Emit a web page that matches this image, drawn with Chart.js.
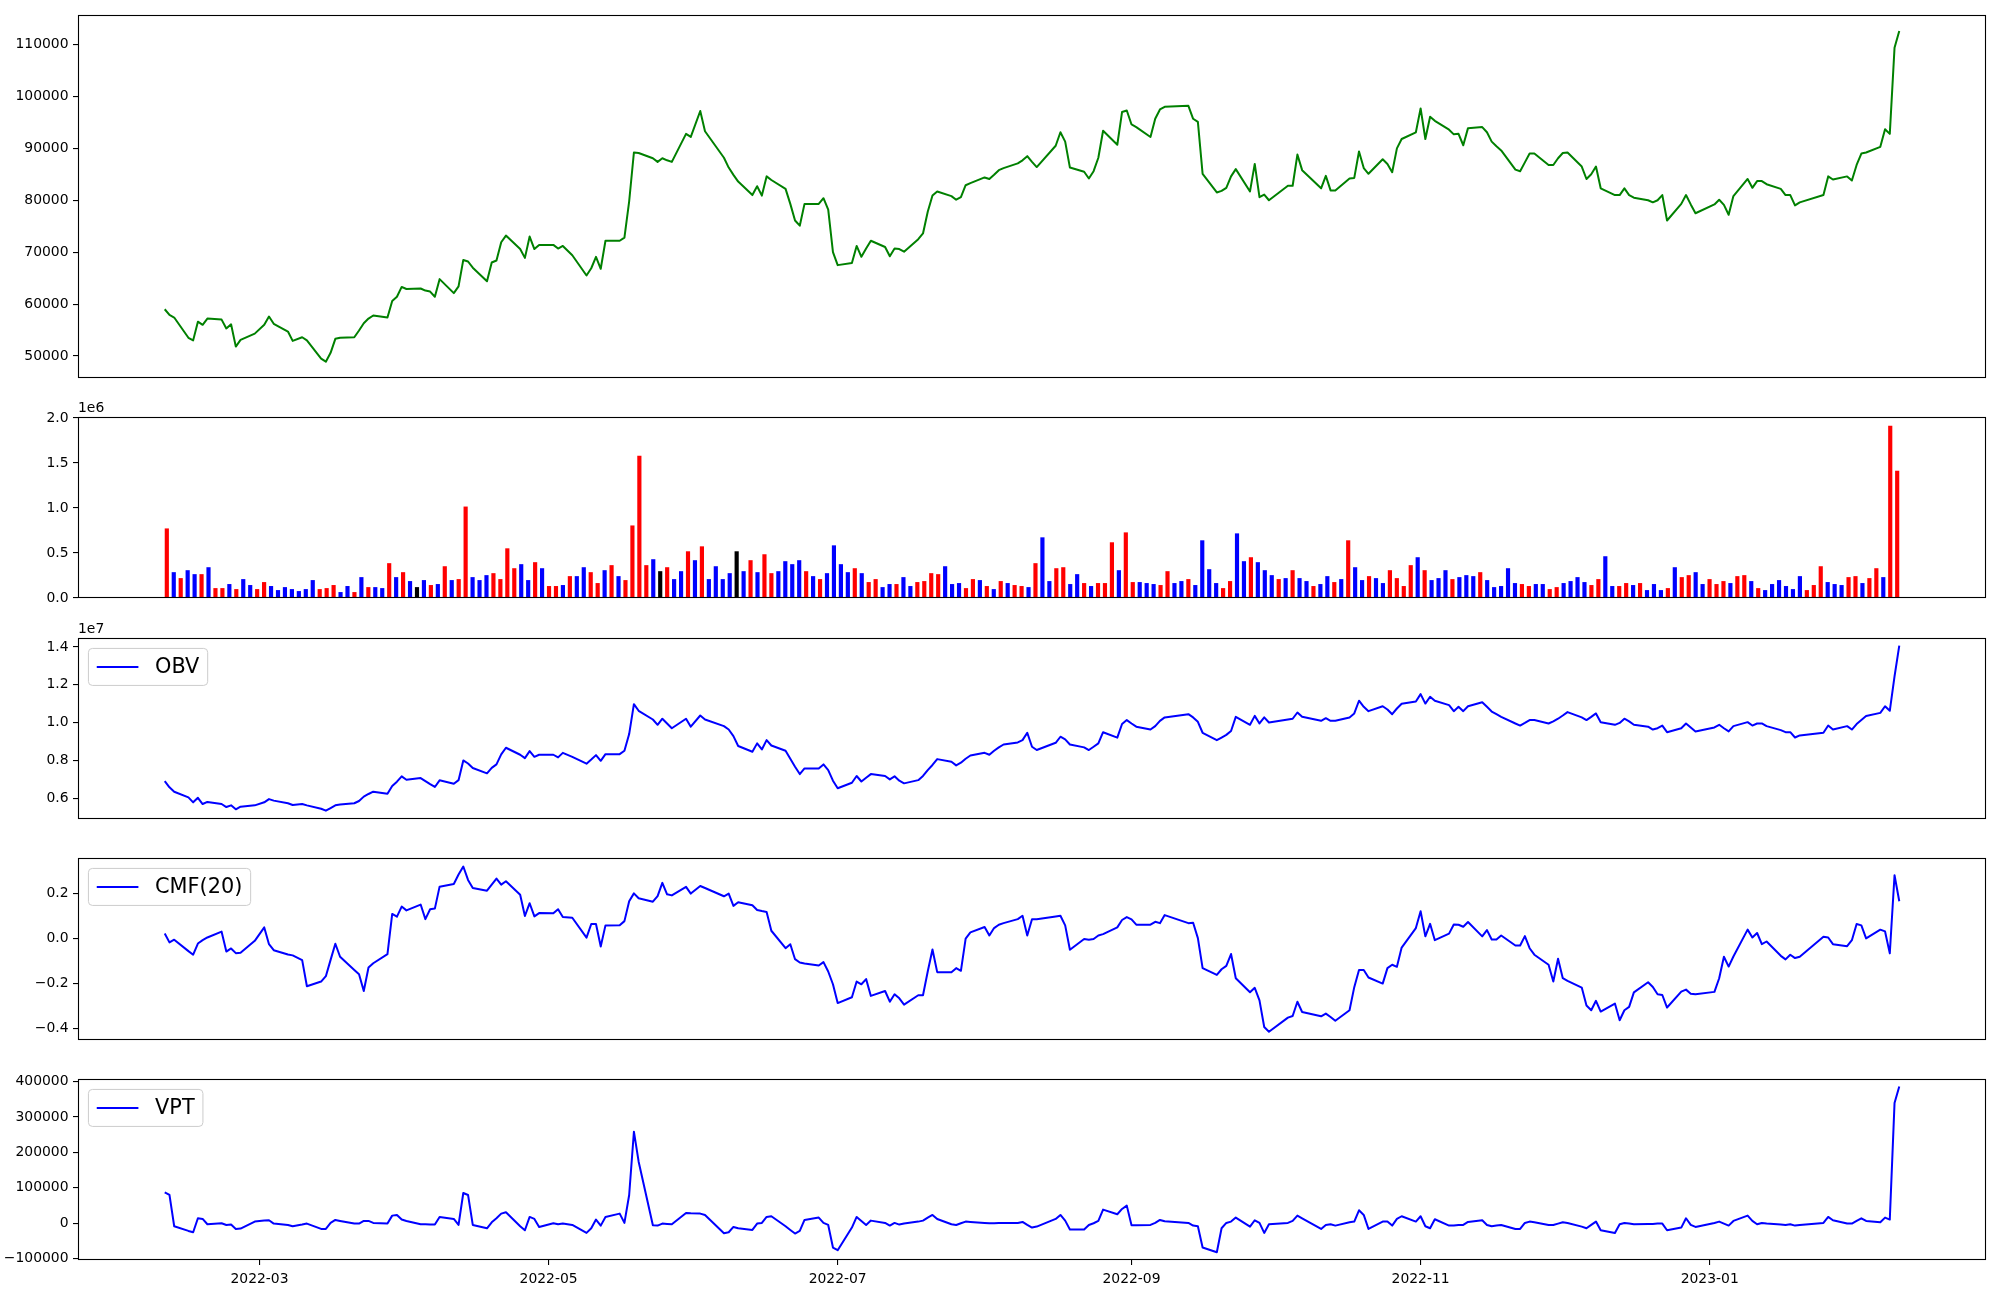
<!DOCTYPE html>
<html><head><meta charset="utf-8">
<script src="https://cdn.jsdelivr.net/npm/chart.js@4.4.1/dist/chart.umd.min.js"></script>
<style>
html,body{margin:0;padding:0;background:#fff;}
#wrap{position:relative;width:2000px;height:1300px;overflow:hidden;background:#fff;}
#wrap canvas{position:absolute;left:0;}
</style></head>
<body><div id="wrap"></div>
<script>
// ---------------- DATA ----------------
const dates = [
'2022-02-09','2022-02-10','2022-02-11','2022-02-14','2022-02-15','2022-02-16','2022-02-17','2022-02-18','2022-02-21','2022-02-22','2022-02-23','2022-02-24','2022-02-25','2022-02-28',
'2022-03-02','2022-03-03','2022-03-04','2022-03-07','2022-03-08','2022-03-10','2022-03-11','2022-03-14','2022-03-15','2022-03-16','2022-03-17','2022-03-18','2022-03-21','2022-03-22','2022-03-23','2022-03-24','2022-03-25','2022-03-28','2022-03-29','2022-03-30','2022-03-31',
'2022-04-01','2022-04-04','2022-04-05','2022-04-06','2022-04-07','2022-04-08','2022-04-11','2022-04-12','2022-04-13','2022-04-14','2022-04-15','2022-04-18','2022-04-19','2022-04-20','2022-04-21','2022-04-22','2022-04-25','2022-04-26','2022-04-27','2022-04-28','2022-04-29',
'2022-05-02','2022-05-03','2022-05-04','2022-05-06','2022-05-09','2022-05-10','2022-05-11','2022-05-12','2022-05-13','2022-05-16','2022-05-17','2022-05-18','2022-05-19','2022-05-20','2022-05-23','2022-05-24','2022-05-25','2022-05-26','2022-05-27','2022-05-30','2022-05-31',
'2022-06-02','2022-06-03','2022-06-07','2022-06-08','2022-06-09','2022-06-10','2022-06-13','2022-06-14','2022-06-15','2022-06-16','2022-06-17','2022-06-20','2022-06-21','2022-06-22','2022-06-23','2022-06-24','2022-06-27','2022-06-28','2022-06-29','2022-06-30',
'2022-07-01','2022-07-04','2022-07-05','2022-07-06','2022-07-07','2022-07-08','2022-07-11','2022-07-12','2022-07-13','2022-07-14','2022-07-15','2022-07-18','2022-07-19','2022-07-20','2022-07-21','2022-07-22','2022-07-25','2022-07-26','2022-07-27','2022-07-28','2022-07-29',
'2022-08-01','2022-08-02','2022-08-03','2022-08-04','2022-08-05','2022-08-08','2022-08-09','2022-08-10','2022-08-11','2022-08-12','2022-08-16','2022-08-17','2022-08-18','2022-08-19','2022-08-22','2022-08-23','2022-08-24','2022-08-25','2022-08-26','2022-08-29','2022-08-30','2022-08-31',
'2022-09-01','2022-09-02','2022-09-05','2022-09-06','2022-09-07','2022-09-08','2022-09-13','2022-09-14','2022-09-15','2022-09-16','2022-09-19','2022-09-20','2022-09-21','2022-09-22','2022-09-23','2022-09-26','2022-09-27','2022-09-28','2022-09-29','2022-09-30',
'2022-10-04','2022-10-05','2022-10-06','2022-10-07','2022-10-11','2022-10-12','2022-10-13','2022-10-14','2022-10-17','2022-10-18','2022-10-19','2022-10-20','2022-10-21','2022-10-24','2022-10-25','2022-10-26','2022-10-27','2022-10-28','2022-10-31',
'2022-11-01','2022-11-02','2022-11-03','2022-11-04','2022-11-07','2022-11-08','2022-11-09','2022-11-10','2022-11-11','2022-11-14','2022-11-15','2022-11-16','2022-11-17','2022-11-18','2022-11-21','2022-11-22','2022-11-23','2022-11-24','2022-11-25','2022-11-28','2022-11-29','2022-11-30',
'2022-12-01','2022-12-02','2022-12-05','2022-12-06','2022-12-07','2022-12-08','2022-12-09','2022-12-12','2022-12-13','2022-12-14','2022-12-15','2022-12-16','2022-12-19','2022-12-20','2022-12-21','2022-12-22','2022-12-23','2022-12-26','2022-12-27','2022-12-28','2022-12-29',
'2023-01-02','2023-01-03','2023-01-04','2023-01-05','2023-01-06','2023-01-09','2023-01-10','2023-01-11','2023-01-12','2023-01-13','2023-01-16','2023-01-17','2023-01-18','2023-01-19','2023-01-20','2023-01-25','2023-01-26','2023-01-27','2023-01-30','2023-01-31',
'2023-02-01','2023-02-02','2023-02-03','2023-02-06','2023-02-07','2023-02-08','2023-02-09','2023-02-10'
];

const closePrice = [
59000,57900,57400,53500,53000,56600,56000,57200,57000,55300,56100,51800,53100,54300,
56000,57600,56200,54700,52900,53600,53000,49500,48900,50600,53300,53500,53600,54900,56300,57200,57800,57400,60600,61400,63300,
62900,63000,62600,62400,61400,64800,62100,63400,68500,68200,67000,64400,68000,68400,71900,73200,70600,68900,73000,70600,71400,
71400,70700,71200,69400,65500,66900,69100,66800,72200,72200,72800,79800,89200,89100,88100,87400,88100,87700,87400,92800,92200,
97200,93300,88200,86300,84900,83600,81000,82700,80900,84600,83900,82200,79300,76100,75100,79300,79300,80400,78200,70000,
67500,67900,71200,69100,70700,72200,71000,69200,70700,70600,70100,72500,73600,77800,80900,81700,80800,80100,80600,82900,83300,
84400,84100,84900,85800,86200,87100,87700,88500,87400,86400,90500,93100,91300,86300,85500,84200,85600,88200,93400,90700,97000,97300,
94600,94100,92200,95700,97500,98000,98200,95700,95100,85100,81500,81800,82400,84600,86000,81700,87000,80600,81100,80000,
82800,82800,88800,85800,82300,84700,81900,81900,84200,84300,89400,86200,85100,87900,87000,85400,90000,91800,93100,
97700,91800,96100,95300,93600,92700,92800,90600,93900,94100,93100,91300,90400,89600,85900,85600,87300,89000,89000,86800,86800,88100,
89100,89200,86500,84100,85000,86500,82300,81000,81000,82300,81000,80500,80000,79600,80000,81000,76100,79300,81000,79200,77500,
79200,80100,79100,77200,80800,84100,82400,83700,83700,83100,82200,81000,81000,79000,79600,81000,84600,84000,84600,83800,
86800,89000,89200,90300,93700,92800,109400,112600
];

const volume = [
773e3,287e3,221e3,309e3,265e3,265e3,342e3,110e3,110e3,155e3,
99e3,210e3,144e3,99e3,177e3,133e3,88e3,121e3,99e3,77e3,
99e3,199e3,99e3,110e3,144e3,66e3,133e3,66e3,232e3,121e3,
121e3,110e3,387e3,232e3,287e3,188e3,121e3,199e3,144e3,155e3,
353e3,199e3,210e3,1016e3,232e3,199e3,254e3,276e3,210e3,552e3,
331e3,376e3,199e3,398e3,331e3,133e3,133e3,144e3,243e3,243e3,
342e3,287e3,166e3,309e3,365e3,243e3,199e3,806e3,1580e3,365e3,
431e3,298e3,342e3,210e3,298e3,519e3,420e3,574e3,210e3,353e3,
210e3,276e3,519e3,298e3,420e3,287e3,486e3,276e3,298e3,409e3,
376e3,420e3,298e3,243e3,210e3,276e3,585e3,376e3,287e3,331e3,
276e3,177e3,210e3,121e3,155e3,155e3,232e3,133e3,177e3,188e3,
276e3,265e3,353e3,155e3,166e3,110e3,210e3,199e3,133e3,99e3,
188e3,166e3,144e3,133e3,121e3,387e3,674e3,188e3,331e3,342e3,
155e3,265e3,166e3,133e3,166e3,166e3,619e3,309e3,729e3,177e3,
177e3,166e3,155e3,144e3,298e3,166e3,188e3,210e3,144e3,641e3,
320e3,166e3,110e3,188e3,718e3,409e3,453e3,398e3,309e3,254e3,
210e3,221e3,309e3,221e3,188e3,133e3,155e3,243e3,177e3,210e3,
641e3,342e3,199e3,243e3,221e3,166e3,309e3,221e3,133e3,365e3,
453e3,309e3,199e3,221e3,309e3,210e3,232e3,254e3,243e3,287e3,
199e3,121e3,133e3,331e3,166e3,155e3,133e3,155e3,155e3,99e3,
121e3,166e3,188e3,232e3,177e3,144e3,210e3,464e3,133e3,133e3,
166e3,144e3,166e3,88e3,155e3,88e3,110e3,342e3,232e3,254e3,
287e3,155e3,210e3,155e3,188e3,166e3,243e3,254e3,188e3,110e3,
88e3,155e3,199e3,133e3,99e3,243e3,88e3,144e3,353e3,177e3,
155e3,144e3,232e3,243e3,166e3,221e3,331e3,232e3,1915e3,1414e3
];

// r = up candle, b = down candle, k = unchanged
const volumeColorCode = (
'rbrbbrbrrb'+'rbbrrbbbbb'+'bbrrrbbrbr'+'bbrbrbkbrb'+'rbrrbbbrrr'+
'rbbrbrrbrb'+'brrbrbrrrr'+'bkrbbrbrbb'+'bbkbrbrrbb'+'bbrbrbbbbr'+
'brrbbrbbrr'+'rrbbbrrbrb'+'rbrrbrbbrr'+'bbrbrrrbrr'+'bbbrrbbrbb'+
'bbrrbbrbbb'+'rbrbbrbbrb'+'rbbrbbrrrr'+'brbbbrbbbr'+'bbbbbrrbbr'+
'rbbbbrrbbr'+'rbrbbbrbrr'+'bbrrrbrrbr'+'bbbbbbrrrb'+'bbrrbrrbrr'
).split('');

const obv = [
6.92e6,6.59e6,6.36e6,6.06e6,5.80e6,6.04e6,5.71e6,5.82e6,5.71e6,5.55e6,5.64e6,5.43e6,5.57e6,5.64e6,
5.80e6,5.97e6,5.89e6,5.75e6,5.66e6,5.71e6,5.64e6,5.46e6,5.36e6,5.50e6,5.64e6,5.68e6,5.75e6,5.87e6,6.10e6,6.24e6,6.36e6,6.25e6,6.66e6,6.89e6,7.17e6,
6.99e6,7.08e6,6.92e6,6.76e6,6.61e6,6.96e6,6.78e6,6.97e6,8.01e6,7.85e6,7.61e6,7.33e6,7.62e6,7.80e6,8.33e6,8.68e6,8.31e6,8.13e6,8.50e6,8.20e6,8.31e6,
8.31e6,8.17e6,8.41e6,8.20e6,7.84e6,8.06e6,8.29e6,7.99e6,8.34e6,8.34e6,8.52e6,9.40e6,10.98e6,10.63e6,10.17e6,9.89e6,10.21e6,9.96e6,9.71e6,10.21e6,9.79e6,
10.38e6,10.17e6,9.82e6,9.64e6,9.29e6,8.77e6,8.47e6,8.91e6,8.59e6,9.08e6,8.80e6,8.52e6,8.10e6,7.68e6,7.29e6,7.59e6,7.59e6,7.80e6,7.50e6,6.94e6,
6.54e6,6.83e6,7.19e6,6.90e6,7.10e6,7.29e6,7.19e6,7.01e6,7.17e6,6.94e6,6.80e6,6.97e6,7.19e6,7.50e6,7.77e6,8.08e6,7.94e6,7.75e6,7.89e6,8.10e6,8.27e6,
8.41e6,8.31e6,8.52e6,8.70e6,8.85e6,8.96e6,9.08e6,9.47e6,8.73e6,8.56e6,8.94e6,9.26e6,9.12e6,8.85e6,8.70e6,8.56e6,8.73e6,8.91e6,9.50e6,9.21e6,9.93e6,10.14e6,
9.96e6,9.79e6,9.64e6,9.82e6,10.10e6,10.28e6,10.45e6,10.28e6,10.05e6,9.47e6,9.08e6,9.22e6,9.36e6,9.56e6,10.31e6,9.89e6,10.36e6,9.96e6,10.28e6,10.01e6,
10.17e6,10.21e6,10.54e6,10.31e6,10.10e6,10.24e6,10.10e6,10.10e6,10.28e6,10.49e6,11.16e6,10.84e6,10.61e6,10.87e6,10.70e6,10.45e6,10.75e6,11.00e6,11.12e6,
11.51e6,11.01e6,11.37e6,11.16e6,10.93e6,10.61e6,10.84e6,10.61e6,10.87e6,11.08e6,10.84e6,10.59e6,10.45e6,10.31e6,9.96e6,9.85e6,9.99e6,10.14e6,10.14e6,9.96e6,10.07e6,10.21e6,
10.38e6,10.56e6,10.28e6,10.14e6,10.31e6,10.49e6,10.03e6,9.89e6,9.99e6,10.21e6,10.07e6,9.89e6,9.79e6,9.64e6,9.71e6,9.85e6,9.50e6,9.71e6,9.96e6,9.75e6,9.54e6,
9.75e6,9.89e6,9.71e6,9.54e6,9.82e6,10.03e6,9.85e6,9.96e6,9.96e6,9.82e6,9.61e6,9.50e6,9.50e6,9.22e6,9.33e6,9.47e6,9.85e6,9.64e6,9.82e6,9.64e6,
9.93e6,10.14e6,10.35e6,10.52e6,10.87e6,10.63e6,12.45e6,14.07e6
];

const cmf20 = [
0.023,-0.017,-0.005,-0.056,-0.072,-0.022,-0.007,0.005,0.031,-0.058,-0.044,-0.065,-0.063,-0.010,
0.050,-0.025,-0.052,-0.071,-0.075,-0.096,-0.213,-0.192,-0.168,-0.095,-0.023,-0.081,-0.140,-0.159,-0.234,-0.129,-0.110,-0.069,0.110,0.098,0.143,
0.126,0.152,0.087,0.131,0.134,0.232,0.244,0.286,0.322,0.262,0.226,0.214,0.241,0.268,0.241,0.256,0.196,0.101,0.158,0.099,0.114,
0.113,0.131,0.096,0.093,0.004,0.065,0.065,-0.035,0.059,0.060,0.078,0.167,0.202,0.180,0.165,0.190,0.249,0.198,0.193,0.231,0.201,
0.235,0.226,0.189,0.201,0.146,0.162,0.149,0.128,0.123,0.119,0.035,-0.043,-0.025,-0.092,-0.107,-0.111,-0.120,-0.105,-0.147,-0.204,
-0.288,-0.262,-0.192,-0.204,-0.181,-0.256,-0.234,-0.282,-0.249,-0.267,-0.295,-0.253,-0.253,-0.147,-0.049,-0.150,-0.150,-0.132,-0.144,0.000,0.028,
0.052,0.014,0.047,0.062,0.069,0.087,0.102,0.014,0.086,0.086,0.099,0.102,0.059,-0.050,-0.002,-0.005,-0.002,0.014,0.020,0.050,0.083,0.096,
0.086,0.062,0.062,0.075,0.069,0.105,0.069,0.071,0.002,-0.132,-0.162,-0.137,-0.122,-0.069,-0.177,-0.240,-0.220,-0.276,-0.395,-0.416,
-0.353,-0.346,-0.282,-0.328,-0.347,-0.335,-0.350,-0.367,-0.320,-0.217,-0.140,-0.140,-0.174,-0.201,-0.132,-0.117,-0.126,-0.040,0.047,
0.122,0.010,0.066,-0.007,0.022,0.063,0.062,0.053,0.074,0.010,0.038,-0.004,-0.004,0.014,-0.031,-0.031,0.011,-0.043,-0.072,-0.117,-0.192,-0.090,
-0.177,-0.189,-0.219,-0.299,-0.320,-0.278,-0.326,-0.290,-0.365,-0.320,-0.305,-0.240,-0.195,-0.216,-0.249,-0.252,-0.308,-0.237,-0.228,-0.246,-0.249,
-0.238,-0.177,-0.081,-0.125,-0.080,0.040,0.005,0.025,-0.025,-0.013,-0.077,-0.093,-0.072,-0.087,-0.081,0.008,0.005,-0.025,-0.034,-0.007,
0.065,0.059,0.001,0.040,0.032,-0.066,0.283,0.167
];

const vpt = [
87100,79600,-8700,-21900,-25700,13800,11900,-3100,-300,-5000,-4000,-16300,-15400,4400,
7200,8200,-1200,-5000,-8700,-4000,-1200,-16300,-16300,700,9100,6300,-1200,-1200,6300,6300,700,-1200,21300,23200,10100,
6300,-3100,-3100,-4000,-4000,17600,11900,-5000,85200,79600,-5000,-14400,2500,13800,27000,30700,-8700,-20000,17600,11900,-10600,
-300,-3100,-1200,-5000,-27500,-14400,10100,-6900,17600,27000,700,79600,258200,173600,-5900,-6900,-1200,-2200,-3100,28900,27900,
27000,23200,-28500,-25700,-10600,-14400,-19100,-1200,700,17600,19500,-8700,-19100,-29400,-21900,9100,15700,700,-5000,-68900,
-76400,-12500,17600,6300,-5000,7200,700,-6900,700,-4000,-1200,4400,7200,15700,23200,11900,-3100,-5000,-300,4400,3500,
700,-300,-300,700,700,700,3500,-5000,-12500,-9700,11900,23200,7200,-18100,-18100,-5000,-300,6300,38300,25100,40100,49500,
-5900,-5900,-5000,700,9100,5300,700,-6900,-8700,-68900,-82100,-14400,700,4400,15700,-9700,8200,700,-27500,-3100,
700,6300,21300,13800,-16300,-5000,-3100,-6900,2500,4400,36400,23200,-16300,4400,4400,-6900,11900,19500,4400,
19500,-8700,-14400,11000,-6900,-6900,-5000,-5000,3500,8200,-5000,-8700,-6900,-5000,-16300,-16300,700,4400,2500,-5000,-5000,-1200,
2500,700,-9700,-14400,-5000,4400,-20000,-27500,-3100,700,-1200,-3100,-2200,-2200,-1200,-1200,-20000,-12500,13800,-5000,-10600,
700,4400,-1200,-6900,6300,21300,6300,-3100,700,-1200,-4000,-5000,-3100,-6900,-5000,700,17600,8200,-1200,-1200,
6300,13800,6300,2500,15700,10100,339000,386000
];

const xTickLabels = ['2022-03','2022-05','2022-07','2022-09','2022-11','2023-01'];
const priceTicks = [50000,60000,70000,80000,90000,100000,110000];
const priceTickLabels = ['50000','60000','70000','80000','90000','100000','110000'];
const volumeTicks = [0,0.5e6,1.0e6,1.5e6,2.0e6];
const volumeTickLabels = ['0.0','0.5','1.0','1.5','2.0'];
const obvTicks = [0.6e7,0.8e7,1.0e7,1.2e7,1.4e7];
const obvTickLabels = ['0.6','0.8','1.0','1.2','1.4'];
const cmfTicks = [-0.4,-0.2,0.0,0.2];
const cmfTickLabels = ['\u22120.4','\u22120.2','0.0','0.2'];
const vptTicks = [-100000,0,100000,200000,300000,400000];
const vptTickLabels = ['\u2212100000','0','100000','200000','300000','400000'];

// ---------------- RENDER ----------------
const FONT = "'DejaVu Sans', 'Liberation Sans', sans-serif";
Chart.defaults.font.family = FONT;
Chart.defaults.font.size = 13.9;
Chart.defaults.color = '#000';
Chart.defaults.animation = false;

const DAY0 = Date.UTC(2022, 2, 1);
function dayNum(s) { const p = s.split('-').map(Number); return (Date.UTC(p[0], p[1]-1, p[2] || 1) - DAY0) / 86400000; }
const xs = dates.map(dayNum);
const xTickValues = xTickLabels.map(l => dayNum(l + '-01'));
const D_MIN = -38.3, D_MAX = 364.3;          // date axis limits (days from 2022-03-01)
const I_MIN = -12.78, I_MAX = 261.78;        // index axis limits for volume bars

const W = 2000, AX_L = 78, AX_R = 1986;
const wrap = document.getElementById('wrap');

const framePlugin = {
  id: 'frame',
  afterDatasetsDraw(chart, args, o) {
    const ctx = chart.ctx, a = chart.chartArea;
    ctx.save();
    ctx.strokeStyle = '#000'; ctx.lineWidth = 1.1;
    ctx.strokeRect(Math.round(a.left) + 0.5, Math.round(a.top) + 0.5,
                   Math.round(a.right - a.left) - 1, Math.round(a.bottom - a.top) - 1);
    if (o.offsetText) {
      ctx.font = '13.9px ' + FONT; ctx.fillStyle = '#000';
      ctx.textAlign = 'left'; ctx.textBaseline = 'bottom';
      ctx.fillText(o.offsetText, a.left, a.top - 2);
    }
    if (o.legend) {
      const fs = 20.83;
      ctx.font = fs + 'px ' + FONT;
      const tw = ctx.measureText(o.legend).width;
      const x = a.left + 0.5 * fs, y = a.top + 0.5 * fs;
      const w = 0.4 * fs + 2 * fs + 0.8 * fs + tw + 0.4 * fs, h = 37, r = 4;
      ctx.beginPath();
      ctx.moveTo(x + r, y); ctx.lineTo(x + w - r, y); ctx.arcTo(x + w, y, x + w, y + r, r);
      ctx.lineTo(x + w, y + h - r); ctx.arcTo(x + w, y + h, x + w - r, y + h, r);
      ctx.lineTo(x + r, y + h); ctx.arcTo(x, y + h, x, y + h - r, r);
      ctx.lineTo(x, y + r); ctx.arcTo(x, y, x + r, y, r); ctx.closePath();
      ctx.fillStyle = 'rgba(255,255,255,0.8)'; ctx.fill();
      ctx.strokeStyle = '#cccccc'; ctx.lineWidth = 1; ctx.stroke();
      ctx.strokeStyle = '#0000ff'; ctx.lineWidth = 2;
      ctx.beginPath(); ctx.moveTo(x + 0.4 * fs, y + h / 2); ctx.lineTo(x + 2.4 * fs, y + h / 2); ctx.stroke();
      ctx.fillStyle = '#000'; ctx.textAlign = 'left'; ctx.textBaseline = 'middle';
      ctx.fillText(o.legend, x + 3.2 * fs, y + h / 2 + 1);
    }
    ctx.restore();
  }
};

function panel(cfg) {
  const padT = 30, xH = cfg.showX ? 38 : 0, padB = cfg.showX ? 6 : 30;
  const h = (cfg.bottom - cfg.top) + padT + padB + xH;
  const cv = document.createElement('canvas');
  cv.width = W; cv.height = h;
  cv.style.top = (cfg.top - padT) + 'px';
  cv.style.width = W + 'px'; cv.style.height = h + 'px';
  wrap.appendChild(cv);
  const xScale = {
    type: 'linear', min: cfg.xMin, max: cfg.xMax, offset: false, bounds: 'data',
    display: !!cfg.showX,
    grid: { display: true, drawOnChartArea: false, drawTicks: true, tickLength: 5, color: '#000', tickColor: '#000', lineWidth: 1.1 },
    border: { display: false },
    ticks: { autoSkip: false, maxRotation: 0, padding: 6.5, font: { size: 13.9 },
             callback: (v, i) => xTickLabels[i] },
    afterBuildTicks: s => { s.ticks = xTickValues.map(v => ({ value: v })); },
    afterFit: s => { if (cfg.showX) s.height = xH; }
  };
  const yScale = {
    type: 'linear', min: cfg.yMin, max: cfg.yMax, bounds: 'data',
    grid: { display: true, drawOnChartArea: false, drawTicks: true, tickLength: 5, color: '#000', tickColor: '#000', lineWidth: 1.1 },
    border: { display: false },
    ticks: { autoSkip: false, padding: 4.5, font: { size: 13.9 },
             callback: (v, i) => cfg.yLabels[i] },
    afterBuildTicks: s => { s.ticks = cfg.yTicks.map(v => ({ value: v })); },
    afterFit: s => { s.width = AX_L; }
  };
  return new Chart(cv, {
    type: cfg.type,
    data: { datasets: cfg.datasets },
    options: {
      responsive: false, maintainAspectRatio: false, animation: false, devicePixelRatio: 1,
      layout: { padding: { top: padT, bottom: padB, left: 0, right: W - AX_R } },
      plugins: { legend: { display: false }, tooltip: { enabled: false },
                 frame: { legend: cfg.legend, offsetText: cfg.offsetText } },
      scales: { x: xScale, y: yScale }
    },
    plugins: [framePlugin]
  });
}

function lineSet(vals, color) {
  return { data: xs.map((x, i) => ({ x: x, y: vals[i] })), borderColor: color, borderWidth: 2,
           pointRadius: 0, fill: false, tension: 0, borderJoinStyle: 'round', borderCapStyle: 'butt' };
}
const colorMap = { r: '#ff0000', b: '#0000ff', k: '#000000' };

panel({ top: 15, bottom: 378, type: 'line', xMin: D_MIN, xMax: D_MAX,
  yMin: 45750, yMax: 115700, yTicks: priceTicks, yLabels: priceTickLabels,
  datasets: [lineSet(closePrice, '#008000')] });

panel({ top: 417, bottom: 598, type: 'bar', xMin: I_MIN, xMax: I_MAX,
  yMin: 0, yMax: 2.011e6, yTicks: volumeTicks, yLabels: volumeTickLabels, offsetText: '1e6',
  datasets: [{ data: volume.map((v, i) => ({ x: i, y: v })),
               backgroundColor: volumeColorCode.map(c => colorMap[c]),
               borderWidth: 0, barPercentage: 0.6, categoryPercentage: 1.0 }] });

panel({ top: 638, bottom: 819, type: 'line', xMin: D_MIN, xMax: D_MAX,
  yMin: 4.92e6, yMax: 14.47e6, yTicks: obvTicks, yLabels: obvTickLabels, offsetText: '1e7', legend: 'OBV',
  datasets: [lineSet(obv, '#0000ff')] });

panel({ top: 858, bottom: 1040, type: 'line', xMin: D_MIN, xMax: D_MAX,
  yMin: -0.453, yMax: 0.360, yTicks: cmfTicks, yLabels: cmfTickLabels, legend: 'CMF(20)',
  datasets: [lineSet(cmf20, '#0000ff')] });

panel({ top: 1079, bottom: 1260, type: 'line', xMin: D_MIN, xMax: D_MAX, showX: true,
  yMin: -104000, yMax: 407000, yTicks: vptTicks, yLabels: vptTickLabels, legend: 'VPT',
  datasets: [lineSet(vpt, '#0000ff')] });
</script>
</body></html>
